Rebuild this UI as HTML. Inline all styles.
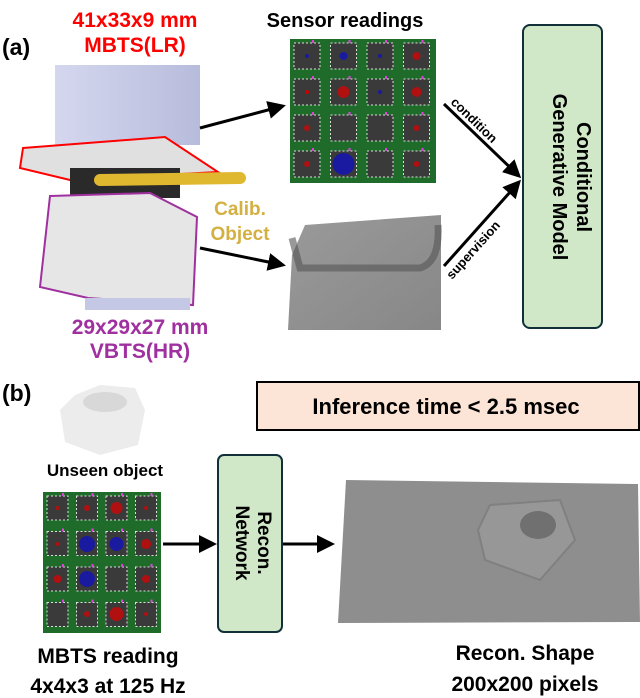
<!DOCTYPE html>
<html><head><meta charset="utf-8"><style>
html,body{margin:0;padding:0;background:#fff;}
svg{display:block;font-family:"Liberation Sans",sans-serif;font-weight:bold;}
</style></head><body>
<svg width="640" height="698" viewBox="0 0 640 698" xmlns="http://www.w3.org/2000/svg">
<defs>
<pattern id="pa" x="290" y="39" width="36.5" height="36" patternUnits="userSpaceOnUse">
<rect width="36.5" height="36" fill="#1e6b2a"/>
<rect x="4" y="4" width="26" height="26" fill="#3a3a3a" stroke="#ddd" stroke-width="1" stroke-dasharray="2,2"/>
<rect x="22" y="1" width="2" height="3" fill="#e040e0"/>
</pattern>
<pattern id="pb" x="43" y="492" width="29.5" height="35.5" patternUnits="userSpaceOnUse">
<rect width="29.5" height="35.5" fill="#1e6b2a"/>
<rect x="4" y="4" width="21" height="24" fill="#3a3a3a" stroke="#ddd" stroke-width="1" stroke-dasharray="2,2"/>
<rect x="19" y="1" width="2" height="3" fill="#e040e0"/>
</pattern>
<marker id="ah" markerWidth="6" markerHeight="6" refX="5" refY="3" orient="auto" markerUnits="strokeWidth"><path d="M0,0 L6,3 L0,6 z" fill="#000"/></marker>
<linearGradient id="gs" x1="0" y1="0" x2="1" y2="1"><stop offset="0" stop-color="#9a9a9a"/><stop offset="1" stop-color="#878787"/></linearGradient>
<linearGradient id="gb" x1="0" y1="0" x2="1" y2="0"><stop offset="0" stop-color="#d4d7ee"/><stop offset="1" stop-color="#b8bcdc"/></linearGradient>
</defs>

<!-- (a) -->
<text x="2" y="55" font-size="23" fill="#000">(a)</text>
<text x="135" y="27" font-size="21" fill="#f00" text-anchor="middle">41x33x9 mm</text>
<text x="135" y="52" font-size="21" fill="#f00" text-anchor="middle">MBTS(LR)</text>

<rect x="55" y="65" width="145" height="80" fill="url(#gb)"/>
<polygon points="23,148 165,137 218,172 70,180 20,168" fill="#e0e0e0" stroke="#f00" stroke-width="2"/>
<rect x="70" y="168" width="110" height="30" fill="#2a2a2a"/>
<path d="M100,180 L240,178" stroke="#e0b830" stroke-width="12" stroke-linecap="round"/>
<polygon points="50,196 150,193 197,217 193,305 88,298 40,287" fill="#e6e6e6" stroke="#a030a0" stroke-width="2"/>
<rect x="85" y="298" width="105" height="12" fill="#c4c8e4"/>
<text x="240" y="215" font-size="19" fill="#d4b040" text-anchor="middle">Calib.</text>
<text x="240" y="240" font-size="19" fill="#d4b040" text-anchor="middle">Object</text>
<text x="140" y="334" font-size="21" fill="#a030a0" text-anchor="middle">29x29x27 mm</text>
<text x="140" y="358" font-size="21" fill="#a030a0" text-anchor="middle">VBTS(HR)</text>

<line x1="200" y1="128" x2="283" y2="106" stroke="#000" stroke-width="3" marker-end="url(#ah)"/>
<line x1="200" y1="248" x2="283" y2="265" stroke="#000" stroke-width="3" marker-end="url(#ah)"/>

<text x="345" y="27" font-size="20" fill="#000" text-anchor="middle">Sensor readings</text>
<rect x="290" y="39" width="146" height="144" fill="url(#pa)"/>
<circle cx="307" cy="92" r="2" fill="#c00"/>
<circle cx="343.5" cy="56" r="4" fill="#1a1aa0"/>
<circle cx="343.5" cy="92" r="6" fill="#b01010"/>
<circle cx="416.5" cy="56" r="4" fill="#b01010"/>
<circle cx="416.5" cy="92" r="5" fill="#b01010"/>
<circle cx="416.5" cy="128" r="3" fill="#b01010"/>
<circle cx="416.5" cy="164" r="3" fill="#b01010"/>
<circle cx="307" cy="128" r="3" fill="#b01010"/>
<circle cx="307" cy="164" r="3" fill="#b01010"/>
<circle cx="343.5" cy="164" r="11" fill="#1a1aa0"/>
<circle cx="307" cy="56" r="2" fill="#1a1aa0"/>
<circle cx="380" cy="56" r="2" fill="#1a1aa0"/>
<circle cx="380" cy="92" r="2" fill="#1a1aa0"/>

<polygon points="288,330 292,255 305,225 441,215 441,330" fill="url(#gs)"/>
<path d="M292,238 L300,268 L420,268 Q440,262 438,225" fill="none" stroke="#555" stroke-width="7" opacity="0.6"/>

<line x1="444" y1="104" x2="519" y2="176" stroke="#000" stroke-width="3" marker-end="url(#ah)"/>
<line x1="444" y1="266" x2="519" y2="182" stroke="#000" stroke-width="3" marker-end="url(#ah)"/>
<text transform="translate(450,103) rotate(44)" font-size="13" fill="#000">condition</text>
<text transform="translate(452,280) rotate(-48)" font-size="13" fill="#000">supervision</text>

<rect x="523" y="25" width="79" height="303" rx="7" fill="#d0e8c8" stroke="#12303a" stroke-width="2"/>
<text transform="translate(565,177) rotate(90)" font-size="20" fill="#000" text-anchor="middle" dy="-12">Conditional</text>
<text transform="translate(565,177) rotate(90)" font-size="20" fill="#000" text-anchor="middle" dy="12">Generative Model</text>

<!-- (b) -->
<text x="2" y="401" font-size="23" fill="#000">(b)</text>
<polygon points="75,395 100,385 135,388 145,410 138,445 100,455 65,442 60,410" fill="#ececec"/>
<ellipse cx="105" cy="402" rx="22" ry="10" fill="#d8d8d8"/>
<text x="105" y="476" font-size="17" fill="#000" text-anchor="middle">Unseen object</text>

<rect x="257" y="382" width="382" height="48" fill="#fce4d6" stroke="#000" stroke-width="2"/>
<text x="446" y="414" font-size="22" fill="#000" text-anchor="middle">Inference time &lt; 2.5 msec</text>

<rect x="43" y="492" width="118" height="141" fill="url(#pb)"/>
<circle cx="87" cy="544" r="8" fill="#1a1aa0"/>
<circle cx="116.5" cy="544" r="7" fill="#1a1aa0"/>
<circle cx="87" cy="579" r="8" fill="#1a1aa0"/>
<circle cx="116.5" cy="508" r="6" fill="#b01010"/>
<circle cx="116.5" cy="614" r="7" fill="#b01010"/>
<circle cx="146" cy="544" r="5" fill="#b01010"/>
<circle cx="57.5" cy="579" r="4" fill="#b01010"/>
<circle cx="146" cy="579" r="4" fill="#b01010"/>
<circle cx="87" cy="508" r="3" fill="#b01010"/>
<circle cx="87" cy="614" r="3" fill="#b01010"/>
<circle cx="57.5" cy="508" r="2" fill="#b01010"/>
<circle cx="57.5" cy="544" r="2" fill="#b01010"/>
<circle cx="146" cy="508" r="2" fill="#b01010"/>
<circle cx="146" cy="614" r="2" fill="#b01010"/>

<line x1="163" y1="544" x2="214" y2="544" stroke="#000" stroke-width="3" marker-end="url(#ah)"/>
<line x1="283" y1="544" x2="332" y2="544" stroke="#000" stroke-width="3" marker-end="url(#ah)"/>
<rect x="218" y="455" width="64" height="177" rx="6" fill="#d0e8c8" stroke="#12303a" stroke-width="2"/>
<text transform="translate(250,543) rotate(90)" font-size="19" fill="#000" text-anchor="middle" dy="-8">Recon.</text>
<text transform="translate(250,543) rotate(90)" font-size="19" fill="#000" text-anchor="middle" dy="14">Network</text>

<polygon points="346,480 638,484 640,622 338,623" fill="#8e8e8e"/>
<polygon points="490,505 560,500 575,540 540,580 485,560 478,530" fill="#979797" stroke="#808080" stroke-width="2"/>
<ellipse cx="538" cy="525" rx="18" ry="14" fill="#707070"/>

<text x="108" y="663" font-size="21" fill="#000" text-anchor="middle">MBTS reading</text>
<text x="108" y="693" font-size="21" fill="#000" text-anchor="middle">4x4x3 at 125 Hz</text>
<text x="525" y="660" font-size="21" fill="#000" text-anchor="middle">Recon. Shape</text>
<text x="525" y="691" font-size="21" fill="#000" text-anchor="middle">200x200 pixels</text>
</svg>
</body></html>
